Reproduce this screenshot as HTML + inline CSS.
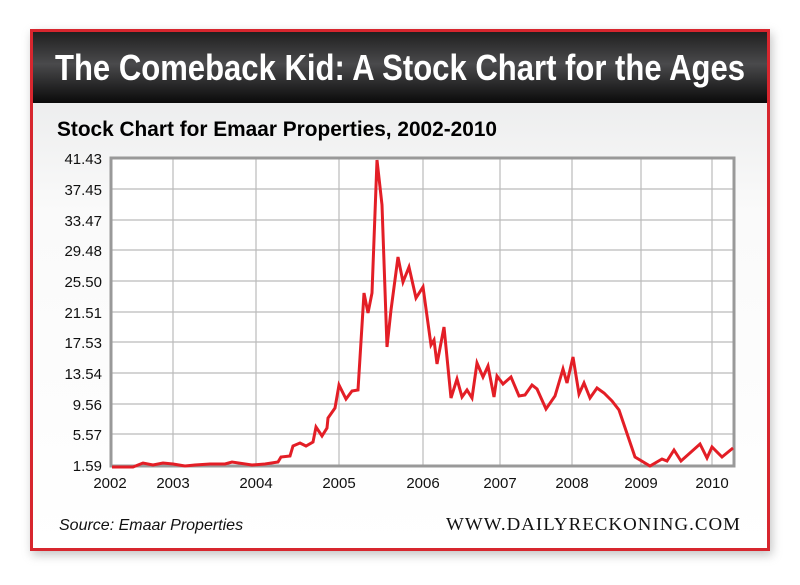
<!DOCTYPE html>
<html><head><meta charset="utf-8"><style>
body{margin:0;width:800px;height:580px;background:#fff;overflow:hidden;font-family:"Liberation Sans",sans-serif}
</style></head><body>
<svg width="800" height="580" xmlns="http://www.w3.org/2000/svg">
<defs>
<linearGradient id="hd" x1="0" y1="0" x2="0" y2="1"><stop offset="0" stop-color="#202020"/><stop offset="0.45" stop-color="#4a4a4c"/><stop offset="1" stop-color="#0a0a0a"/></linearGradient>
<linearGradient id="bg" x1="0" y1="0" x2="0" y2="1"><stop offset="0" stop-color="#e4e5e6"/><stop offset="0.35" stop-color="#fafafa"/><stop offset="1" stop-color="#ffffff"/></linearGradient>
<filter id="sh" x="-5%" y="-5%" width="110%" height="110%"><feGaussianBlur stdDeviation="5"/></filter>
</defs>
<rect x="32" y="33" width="740" height="522" fill="#888" opacity="0.5" filter="url(#sh)"/>
<rect x="31.5" y="30.5" width="737" height="519" fill="url(#bg)" stroke="#d7262e" stroke-width="3"/>
<rect x="33" y="32" width="734" height="71" fill="url(#hd)"/>
<text x="400" y="80" text-anchor="middle" fill="#fff" font-size="36" font-weight="bold" textLength="690" lengthAdjust="spacingAndGlyphs">The Comeback Kid: A Stock Chart for the Ages</text>
<text x="57" y="136" fill="#000" font-size="21" font-weight="bold" textLength="440" lengthAdjust="spacingAndGlyphs">Stock Chart for Emaar Properties, 2002-2010</text>
<rect x="111" y="158" width="623" height="308" fill="#fff"/>
<g stroke="#bbb" stroke-width="1.2">
<line x1="111" y1="189" x2="734" y2="189"/><line x1="111" y1="220" x2="734" y2="220"/><line x1="111" y1="250" x2="734" y2="250"/><line x1="111" y1="281" x2="734" y2="281"/><line x1="111" y1="312" x2="734" y2="312"/><line x1="111" y1="342" x2="734" y2="342"/><line x1="111" y1="373" x2="734" y2="373"/><line x1="111" y1="404" x2="734" y2="404"/><line x1="111" y1="434" x2="734" y2="434"/>
<line x1="173" y1="158" x2="173" y2="466"/><line x1="256" y1="158" x2="256" y2="466"/><line x1="339" y1="158" x2="339" y2="466"/><line x1="423" y1="158" x2="423" y2="466"/><line x1="500" y1="158" x2="500" y2="466"/><line x1="572" y1="158" x2="572" y2="466"/><line x1="641" y1="158" x2="641" y2="466"/><line x1="712" y1="158" x2="712" y2="466"/>
</g>
<rect x="111" y="158" width="623" height="308" fill="none" stroke="#999" stroke-width="3"/>
<g font-size="15" fill="#111" text-anchor="end">
<text x="102" y="164">41.43</text><text x="102" y="195">37.45</text><text x="102" y="226">33.47</text><text x="102" y="256">29.48</text><text x="102" y="287">25.50</text><text x="102" y="318">21.51</text><text x="102" y="348">17.53</text><text x="102" y="379">13.54</text><text x="102" y="410">9.56</text><text x="102" y="440">5.57</text><text x="102" y="471">1.59</text>
</g>
<g font-size="15" fill="#111" text-anchor="middle">
<text x="110" y="488">2002</text><text x="173" y="488">2003</text><text x="256" y="488">2004</text><text x="339" y="488">2005</text><text x="423" y="488">2006</text><text x="500" y="488">2007</text><text x="572" y="488">2008</text><text x="641" y="488">2009</text><text x="712" y="488">2010</text>
</g>
<polyline fill="none" stroke="#e31e26" stroke-width="3" stroke-linejoin="miter" points="112,467 133,467 143,463 153,465 163,463 173,464 185,466 195,465 210,464 225,464 232,462 252,465 265,464 278,462 281,457 290,456 293,446 300,443 306,446 313,442 316,427 322,436 327,428 328,418 335,408 339,385 346,399 352,391 358,390 364,293 368,313 372,293 377,160 382,205 387,347 391,310 398,257 403,282 409,267 416,298 423,287 431,345 434,340 437,364 444,327 451,398 457,379 462,397 467,390 472,398 477,363 483,377 488,366 494,397 497,376 503,384 511,377 519,396 525,395 532,385 537,389 546,409 555,396 563,369 567,383 573,357 579,394 584,383 590,398 597,388 604,393 612,401 619,410 635,457 650,466 662,459 667,461 674,450 681,461 700,444 707,458 712,447 722,457 733,448"/>
<text x="59" y="530" font-size="16" font-style="italic" fill="#111">Source: Emaar Properties</text>
<text x="741" y="530" text-anchor="end" font-family="Liberation Serif,serif" font-size="18" fill="#111" letter-spacing="1" textLength="295" lengthAdjust="spacingAndGlyphs">WWW.DAILYRECKONING.COM</text>
</svg>
</body></html>
